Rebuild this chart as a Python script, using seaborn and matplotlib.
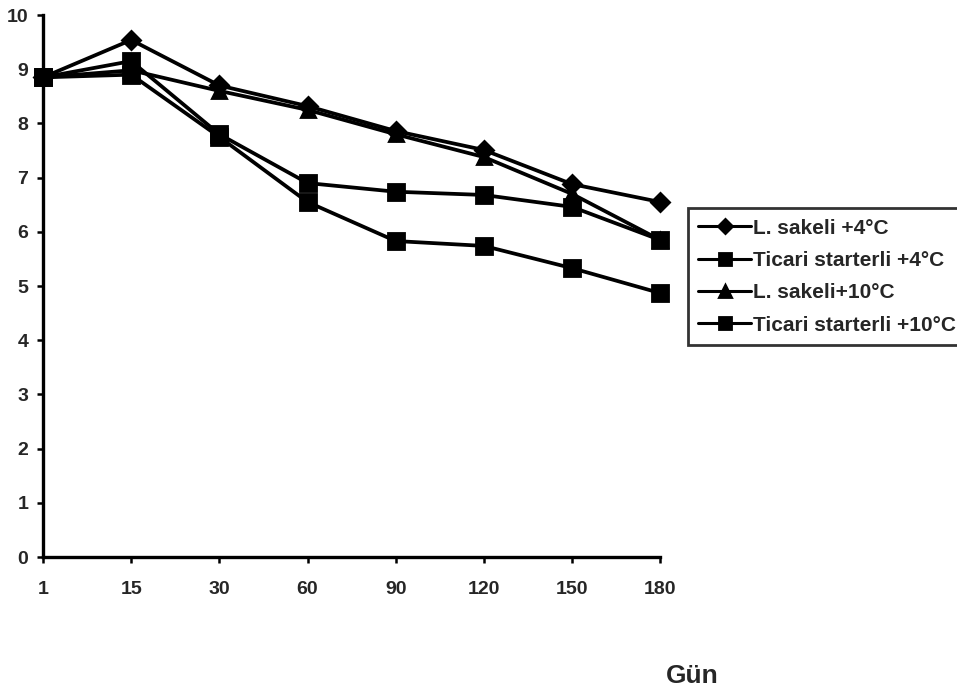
import matplotlib
matplotlib.use("Agg")
import matplotlib.pyplot as plt
import seaborn as sns
import pandas as pd

days = ["1", "15", "30", "60", "90", "120", "150", "180"]
l_sakeli_4 = [8.85, 9.54, 8.70, 8.32, 7.86, 7.51, 6.88, 6.55]
ticari_4 = [8.85, 9.15, 7.80, 6.90, 6.74, 6.68, 6.46, 5.85]
l_sakeli_10 = [8.85, 8.98, 8.60, 8.25, 7.80, 7.38, 6.70, 5.85]
ticari_10 = [8.85, 8.90, 7.75, 6.55, 5.83, 5.74, 5.33, 4.87]
series_names = ["L. sakeli +4°C", "Ticari starterli +4°C",
                "L. sakeli+10°C", "Ticari starterli +10°C"]
yticks = list(range(0, 11))

sns.set_theme(style="white")
plt.rcParams["font.family"] = ["Liberation Sans", "DejaVu Sans"]
plt.rcParams["font.weight"] = "bold"

rows = []
for name, vals in zip(series_names, [l_sakeli_4, ticari_4, l_sakeli_10, ticari_10]):
    for d, v in zip(days, vals):
        rows.append({"Gün": d, "value": v, "series": name})
df = pd.DataFrame(rows)

fig = plt.figure(figsize=(9.57, 6.96), dpi=100)
ax = fig.add_axes([0.045, 0.1997, 0.6448, 0.7787])

markers = ["D", "s", "^", "s"]
msizes = {"D": 9.5, "s": 11, "^": 10}
sns.pointplot(data=df, x="Gün", y="value", hue="series", order=days,
              hue_order=series_names, palette=["black"] * 4,
              markers=markers, linestyles=["-"] * 4, ax=ax,
              markersize=10, linewidth=2.7, errorbar=None)

for line in ax.lines:
    m = line.get_marker()
    if m in msizes:
        line.set_markersize(msizes[m])
    line.set_clip_on(False)

ax.set_xlim(0, len(days) - 1)
ax.set_ylim(0, 10)
ax.set_yticks(yticks)
ax.set_yticklabels([str(t) for t in yticks], fontsize=14, fontweight="bold")
ax.set_xticks(range(len(days)))
ax.set_xticklabels(days, fontsize=14, fontweight="bold")
ax.set_xlabel("")
ax.set_ylabel("")
for s in ["top", "right"]:
    ax.spines[s].set_visible(False)
for s in ["left", "bottom"]:
    ax.spines[s].set_color("black")
    ax.spines[s].set_linewidth(2.4)
ax.tick_params(axis="both", direction="out", length=4.5, width=1.8,
               color="black", left=True, bottom=True)
ax.tick_params(axis="x", pad=13)
ax.tick_params(axis="y", pad=6)
ax.grid(False)

handles, labels = ax.get_legend_handles_labels()
for h in handles:
    try:
        m = h.get_marker()
        if m in msizes:
            h.set_markersize(msizes[m] * 0.8)
        h.set_linewidth(2.2)
    except Exception:
        pass
leg = ax.legend(handles, labels, loc="upper left",
                bbox_to_anchor=(0.719, 0.701), bbox_transform=fig.transFigure,
                frameon=True, fancybox=False, edgecolor="black",
                prop={"weight": "bold", "size": 15}, handlelength=2.5,
                handletextpad=0.1, labelspacing=0.64, borderpad=0.5,
                borderaxespad=0)
leg.get_frame().set_linewidth(2.0)

fig.text(0.723, 0.0187, "Gün", fontsize=19, fontweight="bold", ha="center",
         va="baseline")

fig.savefig("out.png", dpi=100, facecolor="white")
